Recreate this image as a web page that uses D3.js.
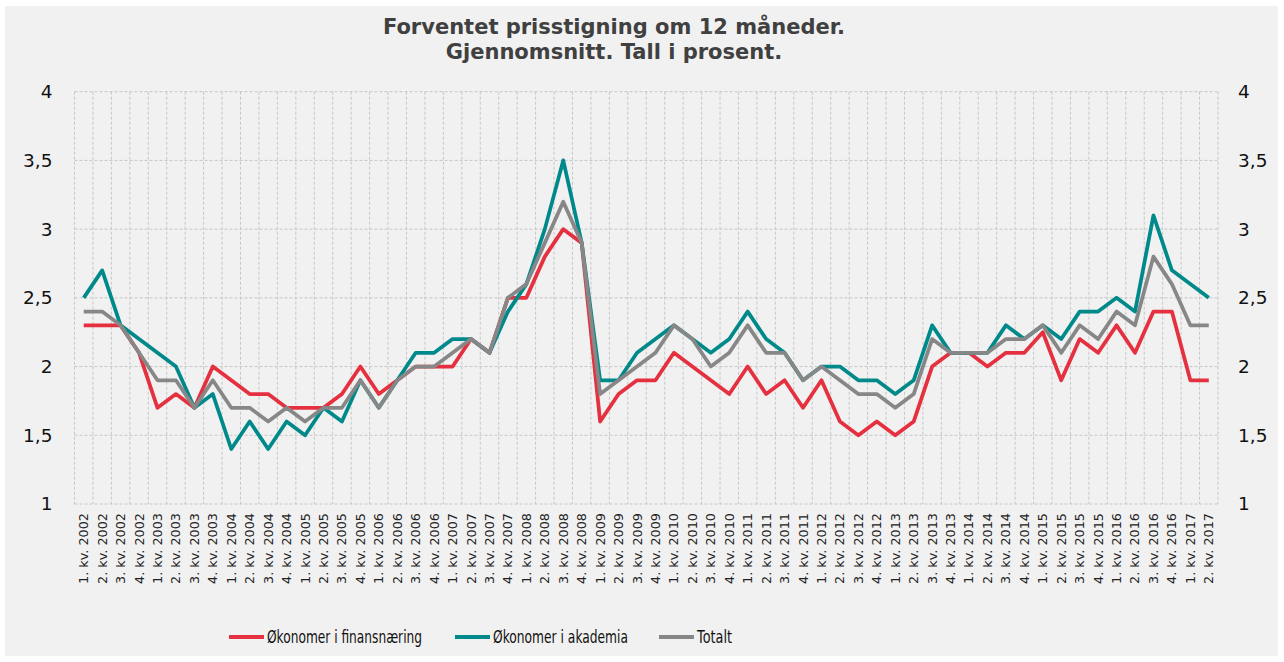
<!DOCTYPE html>
<html>
<head>
<meta charset="utf-8">
<script src="https://cdn.jsdelivr.net/npm/d3@7"></script>
<style>
  body { margin: 0; background: #fff; }
  text { font-family: "DejaVu Sans", Verdana, sans-serif; }
</style>
</head>
<body>
<div id="chart"></div>
<script>
const years = d3.range(2002, 2018);
const quarters = [];
years.forEach(y => [1, 2, 3, 4].forEach(q => {
    if (y < 2017 || q <= 2) quarters.push(`${q}. kv. ${y}`);
}));

const finans = [2.3, 2.3, 2.3, 2.1, 1.7, 1.8, 1.7, 2.0, 1.9, 1.8, 1.8, 1.7, 1.7, 1.7, 1.8, 2.0,
    1.8, 1.9, 2.0, 2.0, 2.0, 2.2, 2.1, 2.5, 2.5, 2.8, 3.0, 2.9, 1.6, 1.8, 1.9, 1.9,
    2.1, 2.0, 1.9, 1.8, 2.0, 1.8, 1.9, 1.7, 1.9, 1.6, 1.5, 1.6, 1.5, 1.6, 2.0, 2.1,
    2.1, 2.0, 2.1, 2.1, 2.25, 1.9, 2.2, 2.1, 2.3, 2.1, 2.4, 2.4, 1.9, 1.9];
const akademia = [2.5, 2.7, 2.3, 2.2, 2.1, 2.0, 1.7, 1.8, 1.4, 1.6, 1.4, 1.6, 1.5, 1.7, 1.6, 1.9,
    1.7, 1.9, 2.1, 2.1, 2.2, 2.2, 2.1, 2.4, 2.6, 3.0, 3.5, 2.9, 1.9, 1.9, 2.1, 2.2,
    2.3, 2.2, 2.1, 2.2, 2.4, 2.2, 2.1, 1.9, 2.0, 2.0, 1.9, 1.9, 1.8, 1.9, 2.3, 2.1,
    2.1, 2.1, 2.3, 2.2, 2.3, 2.2, 2.4, 2.4, 2.5, 2.4, 3.1, 2.7, 2.6, 2.5];
const totalt = [2.4, 2.4, 2.3, 2.1, 1.9, 1.9, 1.7, 1.9, 1.7, 1.7, 1.6, 1.7, 1.6, 1.7, 1.7, 1.9,
    1.7, 1.9, 2.0, 2.0, 2.1, 2.2, 2.1, 2.5, 2.6, 2.9, 3.2, 2.9, 1.8, 1.9, 2.0, 2.1,
    2.3, 2.2, 2.0, 2.1, 2.3, 2.1, 2.1, 1.9, 2.0, 1.9, 1.8, 1.8, 1.7, 1.8, 2.2, 2.1,
    2.1, 2.1, 2.2, 2.2, 2.3, 2.1, 2.3, 2.2, 2.4, 2.3, 2.8, 2.6, 2.3, 2.3];

const yTicks = [1, 1.5, 2, 2.5, 3, 3.5, 4];

const series = [
    { name: "Økonomer i finansnæring", values: finans, color: "#e5303f" },
    { name: "Økonomer i akademia", values: akademia, color: "#00898a" },
    { name: "Totalt", values: totalt, color: "#878787" }
];

const width = 1284, height = 662;
const plot = { left: 74.5, right: 1218, top: 91.7, bottom: 504 };

const svg = d3.select("#chart").append("svg")
    .attr("width", width)
    .attr("height", height);

svg.append("rect")
    .attr("x", 5).attr("y", 6)
    .attr("width", 1273).attr("height", 650)
    .attr("fill", "#f1f1f1");

const x = d3.scaleBand()
    .domain(quarters)
    .range([plot.left, plot.right]);
const y = d3.scaleLinear()
    .domain([1, 4])
    .range([plot.bottom, plot.top]);

// grid
let grid = svg.append("g")
    .attr("stroke", "#c6c6c6")
    .attr("stroke-width", 1)
    .attr("stroke-dasharray", "3,2");
grid.selectAll(".hg").data(yTicks).enter().append("line")
    .attr("x1", plot.left).attr("x2", plot.right)
    .attr("y1", d => y(d)).attr("y2", d => y(d));
let bounds = quarters.map(q => x(q)).concat([plot.right]);
grid.selectAll(".vg").data(bounds).enter().append("line")
    .attr("x1", d => d).attr("x2", d => d)
    .attr("y1", plot.top).attr("y2", plot.bottom);

// y axes (left and right)
let fmt = d => String(d).replace(".", ",");
let yLeft = d3.axisLeft(y).tickValues(yTicks).tickFormat(fmt).tickSize(0).tickPadding(22);
svg.append("g")
    .attr("transform", `translate(${plot.left}, 0)`)
    .call(yLeft)
    .call(g => g.select(".domain").remove())
    .selectAll("text")
    .attr("font-size", 18.5)
    .attr("fill", "#111")
    .attr("font-family", "DejaVu Sans, sans-serif");

let yRight = d3.axisRight(y).tickValues(yTicks).tickFormat(fmt).tickSize(0).tickPadding(20);
svg.append("g")
    .attr("transform", `translate(${plot.right}, 0)`)
    .call(yRight)
    .call(g => g.select(".domain").remove())
    .selectAll("text")
    .attr("font-size", 18.5)
    .attr("fill", "#111")
    .attr("font-family", "DejaVu Sans, sans-serif");

// x axis
let xAxis = d3.axisBottom(x).tickSize(0).tickPadding(0);
svg.append("g")
    .attr("transform", `translate(0, ${plot.bottom})`)
    .call(xAxis)
    .call(g => g.select(".domain").remove())
    .selectAll("text")
    .attr("font-size", 12.8)
    .attr("fill", "#222")
    .attr("font-family", "DejaVu Sans, sans-serif")
    .attr("text-anchor", "end")
    .attr("dy", "0.35em")
    .attr("transform", "translate(0, 9) rotate(-90)")
    .attr("x", 0).attr("y", 0);

// lines
let line = d3.line()
    .x((d, i) => x(quarters[i]) + x.bandwidth() / 2)
    .y(d => y(d));
series.forEach(s => {
    svg.append("path")
        .datum(s.values)
        .attr("fill", "none")
        .attr("stroke", s.color)
        .attr("stroke-width", 3.75)
        .attr("stroke-linejoin", "round")
        .attr("d", line);
});

// title
let title = svg.append("text")
    .attr("text-anchor", "middle")
    .attr("font-weight", "bold")
    .attr("font-size", 21)
    .attr("fill", "#404040");
title.append("tspan").attr("x", 614).attr("y", 34).text("Forventet prisstigning om 12 måneder.");
title.append("tspan").attr("x", 614).attr("y", 59).text("Gjennomsnitt. Tall i prosent.");

// legend
let legendX = [229, 455, 659];
let legendW = [155, 135, 35];
let legend = svg.append("g");
series.forEach((s, i) => {
    let g = legend.append("g").attr("transform", `translate(${legendX[i]}, 637)`);
    g.append("line")
        .attr("x1", 0).attr("x2", 35)
        .attr("stroke", s.color)
        .attr("stroke-width", 4);
    g.append("text")
        .attr("x", 38).attr("dy", "0.35em")
        .attr("font-size", 18.5)
        .attr("font-family", "'DejaVu Sans Condensed', 'DejaVu Sans', sans-serif")
        .attr("textLength", legendW[i])
        .attr("lengthAdjust", "spacingAndGlyphs")
        .attr("fill", "#111")
        .text(s.name);
});
</script>
</body>
</html>
